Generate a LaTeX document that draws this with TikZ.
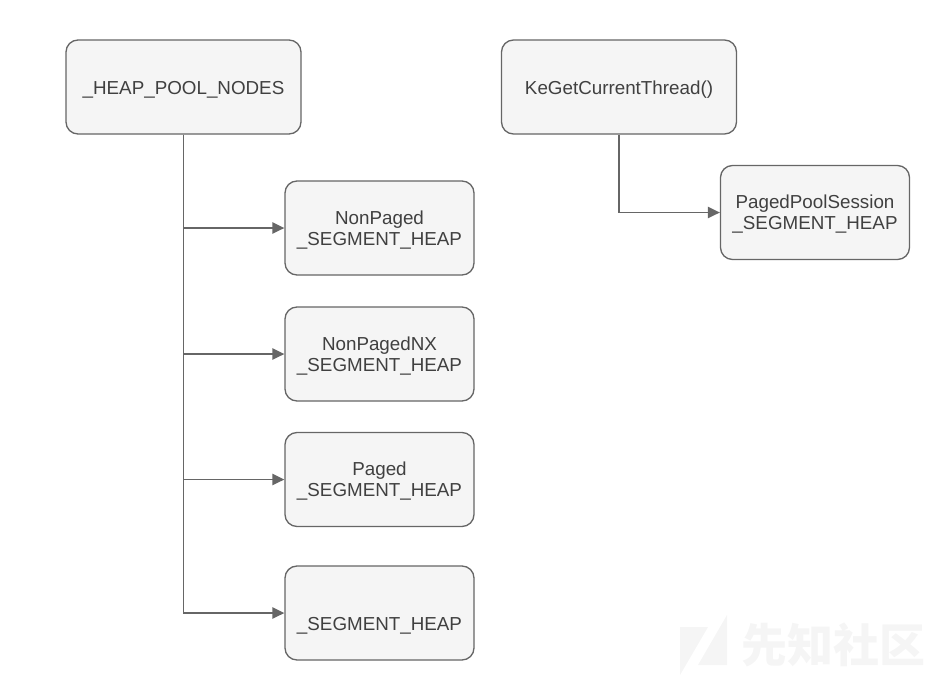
\documentclass[tikz,border=0pt]{standalone}
\usepackage{fontspec}
\setmainfont{Liberation Sans}
\newfontfamily\cjkwm{Noto Sans CJK SC}
\usetikzlibrary{arrows.meta}
\tikzset{
 px/.style={x=0.75pt,y=-0.75pt},
 box/.style={draw=black!60,line width=1pt,fill=black!4,rounded corners=9pt,align=center,font=\fontsize{14.1pt}{15.8pt}\selectfont,text=black!75,inner sep=0pt,anchor=center,text depth=0pt},
 conn/.style={draw=black!60,line width=1.1pt,-{Triangle[length=9pt,width=8.5pt]}},
 wm/.style={fill=black!4,draw=none}
}
\begin{document}
\begin{tikzpicture}[px]
\useasboundingbox (0,0) rectangle (944,679);
\fill[wm] (680,627) -- (708,627) -- (680,675) -- cycle;
\fill[wm] (727,615) -- (727,665) -- (698,665) -- cycle;
\node[text=black!4,font=\cjkwm\bfseries\fontsize{34.5pt}{34.5pt}\selectfont,inner sep=0pt] (wmark) at (833,645) {先知社区};
\node[box,minimum width=176.25pt,minimum height=70.5pt] (pool) at (183.5,87) {\raisebox{-1.5pt}{\_HEAP\_POOL\_NODES}};
\node[box,minimum width=176.25pt,minimum height=70.5pt] (ke) at (619,87) {\raisebox{-1.5pt}{KeGetCurrentThread()}};
\node[box,minimum width=141.75pt,minimum height=70.5pt] (a) at (379.5,228) {NonPaged\\\_SEGMENT\_HEAP};
\node[box,minimum width=141.75pt,minimum height=70.5pt] (b) at (379.5,354) {NonPagedNX\\\_SEGMENT\_HEAP};
\node[box,minimum width=141.75pt,minimum height=70.5pt] (c) at (379.5,479.5) {Paged\\\_SEGMENT\_HEAP};
\node[box,minimum width=141.75pt,minimum height=70.5pt] (d) at (379.5,613) {\vphantom{NonPaged}\\\_SEGMENT\_HEAP};
\node[box,minimum width=141.75pt,minimum height=70.5pt] (s) at (815,212.5) {PagedPoolSession\\\_SEGMENT\_HEAP};
\draw[conn] (pool.south) |- (a.west);
\draw[conn] (pool.south) |- (b.west);
\draw[conn] (pool.south) |- (c.west);
\draw[conn] (pool.south) |- (d.west);
\draw[conn] (ke.south) |- (s.west);
\end{tikzpicture}
\end{document}
